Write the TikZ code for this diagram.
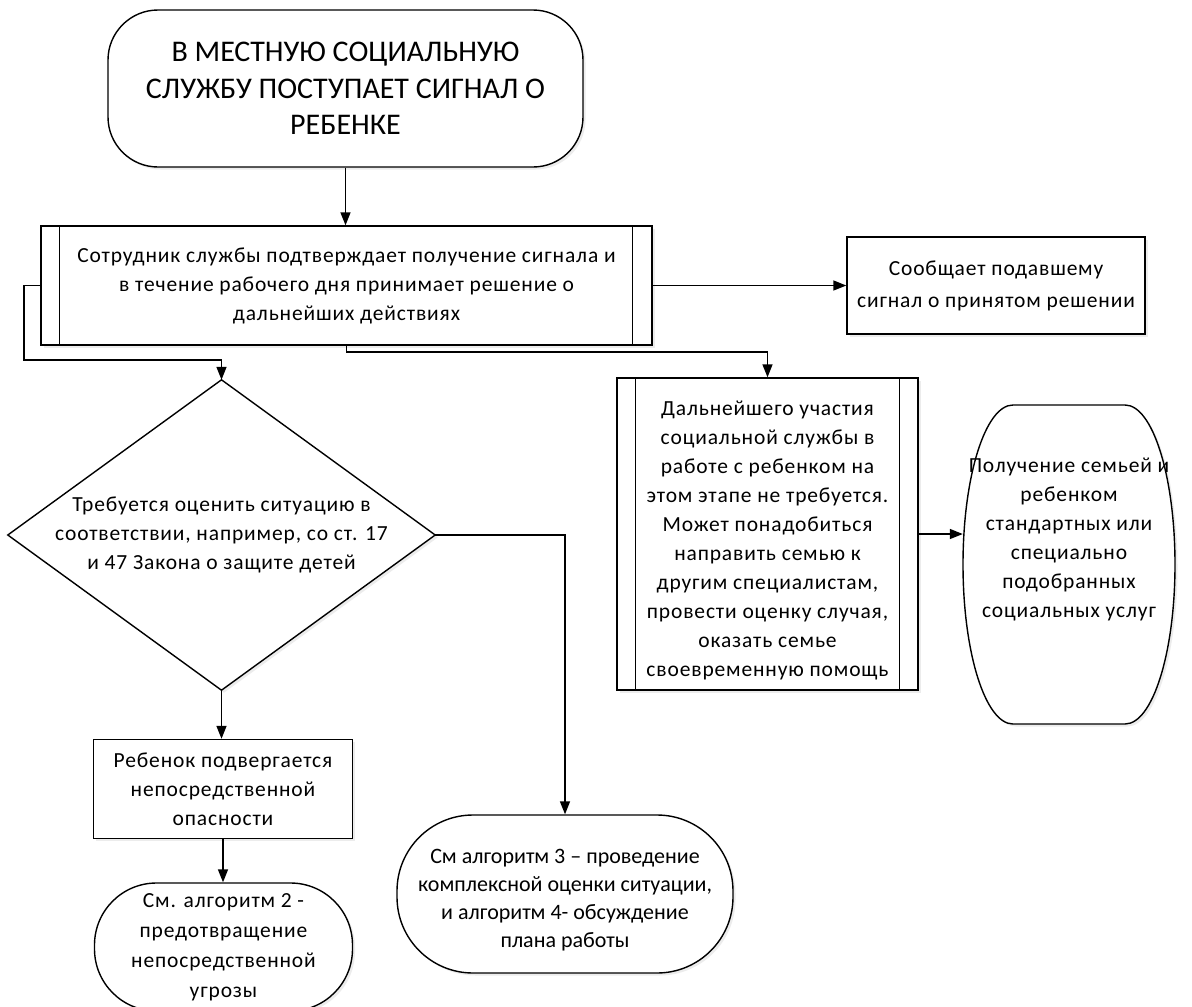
\documentclass[tikz,border=0pt]{standalone}
\usepackage{fontspec}
\setmainfont{Carlito}[LetterSpace=4]
\newfontfamily\plainfont{Carlito}
\usetikzlibrary{arrows.meta,shadows,backgrounds}
\begin{document}
\begin{tikzpicture}[x=1pt,y=-1pt,
  line/.style={draw=black,line width=1.4pt},
  arr/.style={line,-{Triangle[length=13pt,width=10pt]}},
  txt/.style={align=center,font=\fontsize{21.5}{29}\selectfont,inner sep=0pt},
  shade/.style={drop shadow={shadow xshift=2.5pt,shadow yshift=-2.5pt,opacity=0.15}},
  box/.style={txt,line,fill=white,shade}]

% page
\useasboundingbox (0,0) rectangle (1192,1007);

% start terminator
\node[box,rounded corners=50pt,minimum width=475pt,minimum height=157pt,
      font=\plainfont\fontsize{30}{36.5}\selectfont] (top) at (345.5,88.5)
  {В МЕСТНУЮ СОЦИАЛЬНУЮ\\СЛУЖБУ ПОСТУПАЕТ СИГНАЛ О\\РЕБЕНКЕ};

% predefined process: decision by the worker
\node[box,minimum width=611pt,minimum height=119pt] (proc) at (346.5,285.5)
  {Сотрудник службы подтверждает получение сигнала и\\в течение рабочего дня принимает решение о\\дальнейших действиях};
\draw[line] ([xshift=19pt]proc.north west) -- ([xshift=19pt]proc.south west);
\draw[line] ([xshift=-20pt]proc.north east) -- ([xshift=-20pt]proc.south east);

% informing the reporter
\node[box,minimum width=298pt,minimum height=97pt] (msg) at (996,285.5)
  {Сообщает подавшему\\[3pt]сигнал о принятом решении};

% predefined process: no further involvement
\node[box,minimum width=301pt,minimum height=312pt,
      label={[txt,yshift=-6pt]center:{Дальнейшего участия\\социальной службы в\\работе с ребенком на\\этом этапе не требуется.\\Может понадобиться\\направить семью к\\другим специалистам,\\провести оценку случая,\\оказать семье\\своевременную помощь}}]
  (proc2) at (767.5,534) {};
\draw[line] ([xshift=19pt]proc2.north west) -- ([xshift=19pt]proc2.south west);
\draw[line] ([xshift=-19pt]proc2.north east) -- ([xshift=-19pt]proc2.south east);

% tall oval: social services
\node[txt,minimum width=212pt] (oval) at (1069,539.5)
  {Получение семьей и\\ребенком\\стандартных или\\специально\\подобранных\\социальных услуг};

% decision diamond
\node[txt,minimum width=427pt,minimum height=310pt] (dia) at (221.5,535)
  {Требуется оценить ситуацию в\\соответствии, например, со ст. 17\\и 47 Закона о защите детей};

% immediate danger
\node[box,minimum width=259pt,minimum height=99pt] (danger) at (223,789)
  {Ребенок подвергается\\непосредственной\\опасности};

% references to other algorithms
\node[box,rounded corners=62pt,minimum width=258pt,minimum height=128pt,
      font=\fontsize{21.5}{30}\selectfont] (alg2) at (223.5,947)
  {См. алгоритм 2 -\\предотвращение\\непосредственной\\угрозы};
\node[box,rounded corners=76pt,minimum width=336pt,minimum height=158pt,
      font=\plainfont\fontsize{22}{28}\selectfont,
      label={[txt,font=\plainfont\fontsize{22}{28}\selectfont,yshift=-6pt]center:{См алгоритм 3 – проведение\\комплексной оценки ситуации,\\и алгоритм 4- обсуждение\\плана работы}}]
  (alg3) at (565,894) {};

% outlines drawn behind the text
\begin{scope}[on background layer]
  \fill[white] (0,0) rectangle (1192,1007);
  \draw[line,fill=white,shade] (dia.north) -- (dia.east) -- (dia.south) -- (dia.west) -- cycle;
  \draw[line,fill=white,shade]
    ([shift={(-56pt,134.5pt)}]oval.center) -- ([shift={(56pt,134.5pt)}]oval.center)
    arc[start angle=90,end angle=-90,x radius=50pt,y radius=159.5pt]
    -- ([shift={(-56pt,-184.5pt)}]oval.center)
    arc[start angle=270,end angle=90,x radius=50pt,y radius=159.5pt] -- cycle;
\end{scope}

% connectors
\coordinate (c1) at (24,360);
\coordinate (c2) at (600,352);
\draw[arr] (top.south) -- (top.south |- proc.north);
\draw[arr] (proc.east) -- (msg.west);
\draw[arr] (proc.west) -| (c1) -| (dia.north);
\draw[arr] (proc.south) |- (c2) -| (proc2.north);
\draw[arr] (proc2.east) -- (proc2.east -| oval.west);
\draw[arr] (dia.south) -- (dia.south |- danger.north);
\draw[arr] (danger.south) -- (danger.south |- alg2.north);
\draw[arr] (dia.east) -| (alg3.north);
\end{tikzpicture}
\end{document}
